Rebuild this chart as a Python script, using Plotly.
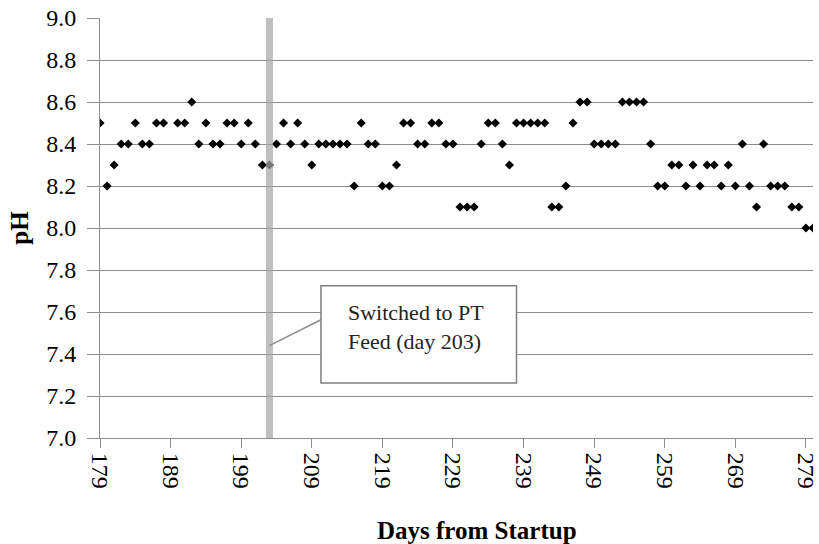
import plotly.graph_objects as go

days = [179, 180, 181, 182, 183, 184, 185, 186, 187, 188, 190, 191, 192, 193, 194, 195, 196, 197, 198, 199,
        200, 201, 202, 203, 204, 205, 206, 207, 208, 209, 210, 211, 212, 213, 214, 215, 216, 217, 218, 219,
        220, 221, 222, 223, 224, 225, 226, 227, 228, 229, 230, 231, 232, 233, 234, 235, 236, 237, 238, 239,
        240, 241, 242, 243, 244, 245, 246, 247, 248, 249, 250, 251, 252, 253, 254, 255, 256, 257, 258, 259,
        260, 261, 262, 263, 264, 265, 266, 267, 268, 269, 270, 271, 272, 273, 274, 275, 276, 277, 278, 279, 280]
ph = [8.5, 8.2, 8.3, 8.4, 8.4, 8.5, 8.4, 8.4, 8.5, 8.5, 8.5, 8.5, 8.6, 8.4, 8.5, 8.4, 8.4, 8.5, 8.5, 8.4,
      8.5, 8.4, 8.3, 8.3, 8.4, 8.5, 8.4, 8.5, 8.4, 8.3, 8.4, 8.4, 8.4, 8.4, 8.4, 8.2, 8.5, 8.4, 8.4, 8.2,
      8.2, 8.3, 8.5, 8.5, 8.4, 8.4, 8.5, 8.5, 8.4, 8.4, 8.1, 8.1, 8.1, 8.4, 8.5, 8.5, 8.4, 8.3, 8.5, 8.5,
      8.5, 8.5, 8.5, 8.1, 8.1, 8.2, 8.5, 8.6, 8.6, 8.4, 8.4, 8.4, 8.4, 8.6, 8.6, 8.6, 8.6, 8.4, 8.2, 8.2,
      8.3, 8.3, 8.2, 8.3, 8.2, 8.3, 8.3, 8.2, 8.3, 8.2, 8.4, 8.2, 8.1, 8.4, 8.2, 8.2, 8.2, 8.1, 8.1, 8.0, 8.0]

switch_day = 203
note_text = "Switched to PT<br>Feed (day 203)"
x_title = "Days from Startup"
y_title = "pH"

FONT = "Liberation Serif"
GRID = "#8c8c8c"

fig = go.Figure()
fig.add_trace(go.Scatter(
    x=days, y=ph, mode="markers",
    marker=dict(symbol="diamond", size=7, color="black", line=dict(width=0)),
    showlegend=False,
))

# switch marker bar
fig.add_shape(type="rect", xref="x", yref="y", x0=switch_day - 0.5, x1=switch_day + 0.5, y0=7.0, y1=9.0,
              fillcolor="#a6a6a6", opacity=0.72, line=dict(width=0), layer="above")
# callout connector
fig.add_shape(type="line", xref="x", yref="y", x0=switch_day, y0=7.44, x1=210.3, y1=7.563,
              line=dict(color="#8c8c8c", width=1.5), layer="above")
# callout box
fig.add_shape(type="rect", xref="x", yref="y", x0=210.3, x1=238.0, y0=7.2625, y1=7.7255,
              fillcolor="white", line=dict(color="#7f7f7f", width=1.5), layer="above")
fig.add_annotation(x=223.8, y=7.53, xref="x", yref="y", text=note_text, showarrow=False,
                   align="left", font=dict(family=FONT, size=22, color="#222222"))

# x title placed as paper annotation
fig.add_annotation(x=(480 - 100) / 719, y=-(530 - 438) / 420, xref="paper", yref="paper",
                   xanchor="center", yanchor="middle",
                   text="<b>%s</b>" % x_title, showarrow=False,
                   font=dict(family=FONT, size=25, color="black"))

fig.update_layout(
    width=819, height=544,
    margin=dict(l=100, r=0, t=18, b=106),
    paper_bgcolor="white", plot_bgcolor="white",
    font=dict(family=FONT, color="black"),
    xaxis=dict(range=[179, 280], tick0=179, dtick=10, tickangle=90,
               showgrid=False, zeroline=False,
               showline=True, linecolor=GRID, linewidth=1,
               ticks="outside", ticklen=9, tickcolor=GRID,
               ticklabeloverflow="allow",
               tickfont=dict(family=FONT, size=24, color="black")),
    yaxis=dict(range=[7.0, 9.0], tick0=7.0, dtick=0.2, tickformat=".1f",
               showgrid=True, gridcolor=GRID, gridwidth=1, zeroline=False,
               showline=True, linecolor=GRID, linewidth=1,
               ticks="outside", ticklen=12, tickcolor=GRID, ticklabelstandoff=6,
               tickfont=dict(family=FONT, size=24, color="black"),
               title=dict(text="<b>%s</b>" % y_title, font=dict(family=FONT, size=25, color="black"), standoff=10)),
)

fig.write_html("out.html")
